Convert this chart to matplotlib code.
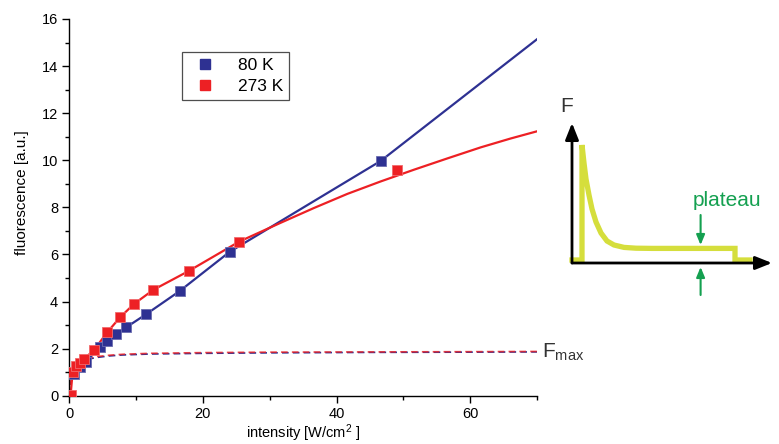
import matplotlib.pyplot as plt
from matplotlib.lines import Line2D

plt.rcParams['font.family'] = ['Liberation Sans', 'DejaVu Sans']
plt.rcParams['mathtext.fontset'] = 'custom'
plt.rcParams['mathtext.rm'] = 'Liberation Sans'
plt.rcParams['mathtext.it'] = 'Liberation Sans:italic'

BLUE = '#2e3192'
RED = '#ed2024'
YELLOW = '#d5de3c'
GREEN = '#14a050'

# measured fluorescence vs. excitation intensity
x_80 = [0.7, 1.6, 2.5, 4.6, 5.7, 6.95, 8.5, 11.5, 16.5, 24.0, 46.6]
y_80 = [0.92, 1.23, 1.45, 2.08, 2.33, 2.6, 2.9, 3.46, 4.44, 6.11, 9.97]
x_273 = [0.2, 0.5, 1.0, 1.6, 2.2, 3.75, 5.7, 7.6, 9.7, 12.6, 17.9, 25.4, 49.0]
y_273 = [0.05, 1.0, 1.26, 1.4, 1.55, 1.96, 2.7, 3.33, 3.9, 4.5, 5.3, 6.54, 9.57]

# extrapolation of the 80 K data
ext_80_x = [46.6, 70.0]
ext_80_y = [9.97, 15.14]

# fit to the 273 K data above 25 W/cm2
fit_273_x = [25.4, 31.6, 36.6, 41.6, 46.6, 51.6, 56.6, 61.6, 66.0, 70.0]
fit_273_y = [6.54, 7.34, 7.97, 8.57, 9.1, 9.6, 10.08, 10.55, 10.92, 11.23]

# saturation curves (F_max)
sat_x = [0, 0.2, 0.5, 1, 1.5, 2, 3, 4, 6, 8, 12, 20, 30, 45, 60, 70]
sat_80 = [0, 0.5, 0.9, 1.2, 1.35, 1.45, 1.56, 1.62, 1.69, 1.73, 1.77, 1.8, 1.82, 1.84, 1.85, 1.86]
sat_273 = [0, 0.55, 0.95, 1.24, 1.39, 1.49, 1.6, 1.66, 1.72, 1.76, 1.8, 1.83, 1.85, 1.86, 1.87, 1.88]

# schematic fluorescence transient for the inset
t_trace = [0, 0.5, 0.5, 0.6, 0.7, 0.85, 1.0, 1.2, 1.45, 1.75, 2.1, 2.6, 3.2, 4.0,
           8.15, 8.15, 8.9]
f_trace = [0.15, 0.15, 5.9, 5.0, 4.2, 3.4, 2.7, 2.05, 1.5, 1.1, 0.9, 0.78, 0.74, 0.73,
           0.73, 0.15, 0.15]

fig = plt.figure(figsize=(7.79, 4.44), dpi=100)
ax = fig.add_axes([69.3 / 779, 1 - 395.7 / 444, (537 - 69.3) / 779, (395.7 - 19) / 444])

ax.plot(sat_x, sat_80, '--', color=BLUE, lw=1.2, dashes=(4, 2.5))
ax.plot(sat_x, sat_273, '--', color=RED, lw=1.2, dashes=(4, 2.5), alpha=0.8)

ax.plot(x_80, y_80, color=BLUE, lw=1.6)
ax.plot(ext_80_x, ext_80_y, color=BLUE, lw=1.6)
ax.plot(x_273[:-1], y_273[:-1], color=RED, lw=1.6)
ax.plot(fit_273_x, fit_273_y, color=RED, lw=1.6)

ax.plot(x_80, y_80, 's', color=BLUE, ms=6.5, mec='#6a6cb0', mew=0.6, zorder=3)
ax.plot(x_273, y_273, 's', color=RED, ms=6.5, mec='#f26a6d', mew=0.6, zorder=4)

ax.set_xlim(0, 70)
ax.set_ylim(0, 16)
ax.set_xticks([0, 20, 40, 60])
ax.set_xticks([10, 30, 50, 70], minor=True)
ax.set_yticks(range(0, 17, 2))
ax.set_yticks(range(1, 16, 2), minor=True)
for s in ['top', 'right']:
    ax.spines[s].set_visible(False)
for s in ['left', 'bottom']:
    ax.spines[s].set_linewidth(1.0)
ax.tick_params(which='major', length=5, width=1.0, labelsize=10.5, direction='out', pad=3)
ax.tick_params(which='minor', length=3, width=1.0, direction='out')
ax.set_xlabel(r'intensity [W/cm$^2$ ]', fontsize=10.5)
ax.set_ylabel('fluorescence [a.u.]', fontsize=11)
ax.xaxis.set_label_coords(0.5, -0.07)
ax.yaxis.set_label_coords(-0.087, 0.54)

ax.text(70.8, 1.86, r'F$_{\mathrm{max}}$', fontsize=15, va='center', ha='left', color='#333333')

handles = [Line2D([], [], ls='none', marker='s', color=BLUE, ms=7),
           Line2D([], [], ls='none', marker='s', color=RED, ms=7)]
leg = fig.legend(handles, ['80 K', '273 K'], loc='upper left',
                 bbox_to_anchor=(182 / 779, 1 - 52 / 444), fontsize=12.5,
                 frameon=True, fancybox=False, edgecolor='#222222',
                 handlelength=2.0, handletextpad=0.85, borderpad=0.35,
                 labelspacing=0.3, borderaxespad=0)
leg.get_frame().set_linewidth(0.9)

# inset: fluorescence transient with plateau
axi = fig.add_axes([552 / 779, 1 - 313 / 444, 230 / 779, 230 / 444])
axi.set_xlim(-1, 10.5)
axi.set_ylim(-2.5, 9)
axi.axis('off')
axi.plot(t_trace, f_trace, color=YELLOW, lw=3.8, solid_joinstyle='miter', zorder=2)
arrow = dict(arrowstyle='-|>,head_width=0.4,head_length=1.0', color='black', lw=2.0,
             shrinkA=0, shrinkB=0)
axi.annotate('', xy=(0, 7), xytext=(0, 0), arrowprops=arrow, zorder=3)
axi.annotate('', xy=(10, 0), xytext=(0, 0), arrowprops=arrow, zorder=3)
axi.text(-0.25, 7.85, 'F', fontsize=15, ha='center', va='center', color='#333333')
garrow = dict(arrowstyle='-|>,head_width=0.25,head_length=0.6', color=GREEN, lw=1.5,
              shrinkA=0, shrinkB=0)
axi.annotate('', xy=(6.43, 0.9), xytext=(6.43, 2.4), arrowprops=garrow)
axi.annotate('', xy=(6.43, -0.2), xytext=(6.43, -1.6), arrowprops=garrow)
axi.text(7.75, 3.15, 'plateau', fontsize=15, color=GREEN, ha='center', va='center')

fig.savefig('out.png', dpi=100)
